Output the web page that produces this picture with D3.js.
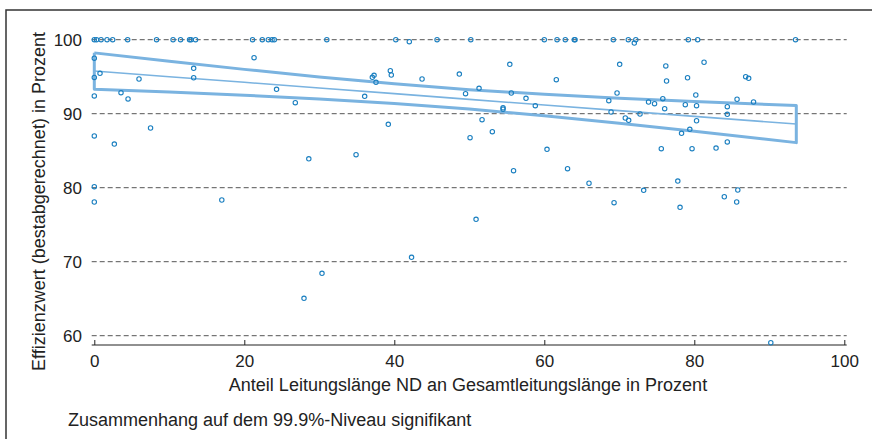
<!DOCTYPE html>
<html><head><meta charset="utf-8">
<script src="https://cdn.jsdelivr.net/npm/d3@7"></script>
<style>
html,body{margin:0;padding:0;background:#fff;}
svg{display:block;font-family:"Liberation Sans",Arial,sans-serif;}
</style></head>
<body><svg id="c" width="872" height="439"></svg>
<script>
// Scatter data: x = Anteil ND (%), y = Effizienzwert (%)
const pointsX = [
 0,0.9,1.7,2.45,4.45,8.3,10.5,11.5,12.7,12.9,13.5,21.1,22.4,23.2,23.7,24.0,0.3,
 31.0,40.2,42.0,45.7,50.2,60.0,61.7,62.8,64.0,64.1,69.2,71.2,72.2,72.0,79.2,80.45,93.5,
 0,0,0.76,0,3.56,4.5,5.96,7.5,0,2.67,13.25,13.25,21.3,24.3,26.8,0,17.0,0,
 28.6,34.9,36.05,37.07,37.3,37.56,39.2,39.47,39.6,43.7,48.67,49.5,50.1,51.3,51.7,53.07,54.5,54.5,
 55.4,55.6,55.9,57.56,58.8,60.36,61.6,63.1,
 70.05,69.7,68.6,68.9,70.8,71.25,72.76,73.9,74.7,75.8,76.05,76.2,76.3,75.6,79.1,78.8,80.2,80.3,80.3,
 79.4,78.3,79.7,81.3,82.9,84.4,84.4,84.4,85.7,86.85,87.25,87.9,
 65.96,73.25,77.8,84.0,85.8,69.3,78.1,85.65,90.2,
 27.96,30.36,42.3,50.9
];
const pointsY = [
 100,100,100,100,100,100,100,100,100,100,100,100,100,100,100,100,100,
 100,100,99.73,100,100,100,100,100,100,100,100,100,100,99.55,100,100,100,
 97.5,94.9,95.45,92.4,92.84,91.99,94.69,88.07,86.99,85.9,96.13,94.86,97.57,93.3,91.49,80.14,78.34,78.07,
 83.9,84.46,92.35,94.92,95.19,94.24,88.57,95.81,95.23,94.69,95.36,92.7,86.76,93.43,89.19,87.57,90.6,90.8,
 96.67,92.8,82.3,92.08,91.08,85.19,94.6,82.57,
 96.67,92.8,91.76,90.23,89.42,89.1,89.96,91.58,91.35,92.03,90.68,96.45,94.42,85.27,94.86,91.22,92.53,91.08,89.05,
 87.89,87.35,85.27,96.95,85.36,86.18,90.95,89.92,91.95,95.0,94.78,91.58,
 80.6,79.65,80.9,78.78,79.69,77.97,77.35,78.07,59.05,
 65.05,68.43,70.59,75.73
];
// Regression line and confidence band
const bandX     = [0, 10, 20, 30, 40, 50, 60, 70, 80, 93.6];
const fitY      = [95.77, 95.0, 94.24, 93.47, 92.71, 91.94, 91.17, 90.41, 89.64, 88.6];
const upperY    = [98.22, 97.08, 95.99, 94.96, 94.04, 93.25, 92.62, 92.10, 91.65, 91.11];
const lowerY    = [93.32, 92.92, 92.49, 91.98, 91.38, 90.63, 89.73, 88.72, 87.63, 86.09];
const xTicks = [0, 20, 40, 60, 80, 100];
const yTicks = [60, 70, 80, 90, 100];
const xLabel = "Anteil Leitungslänge ND an Gesamtleitungslänge in Prozent";
const yLabel = "Effizienzwert (bestabgerechnet) in Prozent";
const note = "Zusammenhang auf dem 99.9%-Niveau signifikant";

const svg = d3.select("#c");
const x = d3.scaleLinear().domain([0, 100]).range([94.3, 844.3]);
const y = d3.scaleLinear().domain([60, 100]).range([335.7, 39.7]);
const axisY = 345, gx0 = 91.7, gx1 = 846.7;

// frame
svg.append("rect").attr("x", 6).attr("y", 10).attr("width", 900).attr("height", 500)
  .attr("fill", "none").attr("stroke", "#333").attr("stroke-width", 1.5);

// gridlines
svg.append("g").selectAll("line").data(yTicks).join("line")
  .attr("x1", gx0).attr("x2", gx1).attr("y1", d => y(d)).attr("y2", d => y(d))
  .attr("stroke", "#555").attr("stroke-width", 1).attr("stroke-dasharray", "5,3");

// y tick labels
svg.append("g").selectAll("text").data(yTicks).join("text")
  .attr("x", 82).attr("y", d => y(d)).attr("dy", "0.35em").attr("text-anchor", "end")
  .attr("font-size", 17).attr("fill", "#222").text(d => d);

// x axis
const xa = svg.append("g").attr("transform", `translate(0,${axisY})`)
  .call(d3.axisBottom(x).tickValues(xTicks).tickSize(-5).tickPadding(10).tickSizeOuter(0));
xa.select(".domain").attr("d", `M${gx0},0H${gx1}`).attr("stroke", "#222").attr("stroke-width", 1.2);
xa.selectAll(".tick line").attr("stroke", "#222");
xa.selectAll(".tick text").attr("font-size", 17).attr("fill", "#222")
  .attr("font-family", "Liberation Sans, Arial, sans-serif");

// band
const bandColor = "#7ab3e0";
const line = d3.line().x(d => x(d[0])).y(d => y(d[1]));
const outline = bandX.map((v, i) => [v, upperY[i]])
  .concat(bandX.map((v, i) => [v, lowerY[i]]).reverse());
outline.push(outline[0]);
svg.append("path").attr("d", line(outline)).attr("fill", "none")
  .attr("stroke", bandColor).attr("stroke-width", 3).attr("stroke-linejoin", "round");
svg.append("path").attr("d", line(bandX.map((v, i) => [v, fitY[i]]))).attr("fill", "none")
  .attr("stroke", bandColor).attr("stroke-width", 1.6);

// points
svg.append("g").selectAll("circle").data(pointsX.map((v, i) => [v, pointsY[i]])).join("circle")
  .attr("cx", d => x(d[0])).attr("cy", d => y(d[1])).attr("r", 2.2)
  .attr("fill", "none").attr("stroke", "#1a7fc0").attr("stroke-width", 1.1);

// labels
svg.append("text").attr("x", 468).attr("y", 391).attr("text-anchor", "middle")
  .attr("font-size", 18).attr("fill", "#222").text(xLabel);
svg.append("text").attr("transform", "translate(45,201.5) rotate(-90)").attr("text-anchor", "middle")
  .attr("font-size", 18).attr("fill", "#222").text(yLabel);
svg.append("text").attr("x", 68).attr("y", 426)
  .attr("font-size", 18).attr("fill", "#222").text(note);
</script></body></html>
